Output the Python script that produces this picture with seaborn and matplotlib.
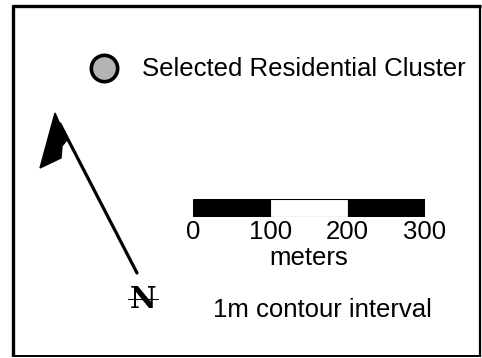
import numpy as np
import pandas as pd
import seaborn as sns
import matplotlib.pyplot as plt
from matplotlib.patches import Polygon

# legend texts
cluster_label = 'Selected Residential Cluster'
contour_label = '1m contour interval'
scale_unit = 'meters'
north_label = 'N'

# scale bar (meters)
seg_start = [0, 100, 200]
seg_width = [100, 100, 100]
scale_ticks = [0, 100, 200, 300]

sns.set_theme(style='white')
plt.rcParams['font.family'] = ['Liberation Sans', 'DejaVu Sans']

fig = plt.figure(figsize=(4.82, 3.58), dpi=100)
ax = fig.add_axes([0, 0, 1, 1])
ax.set_xlim(0, 482)
ax.set_ylim(358, 0)
ax.axis('off')

# frame
ax.plot([13, 13], [5, 356], color='black', lw=2.4, solid_capstyle='butt')
ax.plot([12, 481], [6, 6], color='black', lw=2.4, solid_capstyle='butt')
ax.plot([480, 480], [5, 357], color='black', lw=1.6, solid_capstyle='butt')
ax.plot([12, 481], [356, 356], color='black', lw=1.4, solid_capstyle='butt')

# cluster symbol
df = pd.DataFrame({'x': [104], 'y': [68]})
sns.scatterplot(data=df, x='x', y='y', s=360, color='#b4b4b4',
                edgecolor='black', linewidth=2.6, ax=ax, legend=False, zorder=3)
ax.set_xlabel('')
ax.set_ylabel('')
ax.text(142, 69, cluster_label, fontsize=18.5, va='center', ha='left', color='black')

# north arrow
ax.plot([137, 60], [273, 124], color='black', lw=2.3, solid_capstyle='round')
ax.add_patch(Polygon([(55, 113), (40, 168), (61, 158), (62, 146), (67, 140)],
                     closed=True, facecolor='black', edgecolor='black', lw=1))
ax.text(143, 300, north_label, fontsize=21, fontweight='bold', family='DejaVu Serif',
        ha='center', va='center', color='black')
ax.plot([128, 158], [299, 299], color='black', lw=0.8)

# scale bar
sax = fig.add_axes([193 / 482, 1 - 217 / 358, 232 / 482, 18 / 358])
sax.barh([0, 0, 0], seg_width, left=seg_start, height=1,
         color=['black', 'white', 'black'], edgecolor='black', linewidth=0.8)
sax.set_xlim(0, 300)
sax.set_ylim(-0.5, 0.5)
sax.set_yticks([])
sax.set_xticks(scale_ticks)
sax.set_xticklabels([str(t) for t in scale_ticks], fontsize=18.5, color='black')
sax.tick_params(axis='x', length=0, pad=2.5)
sax.set_xlabel(scale_unit, fontsize=18.5, labelpad=1, color='black')
for s in sax.spines.values():
    s.set_visible(False)

ax.text(213, 310, contour_label, fontsize=18.5, va='center', ha='left', color='black')

plt.savefig('out.png', dpi=100)
